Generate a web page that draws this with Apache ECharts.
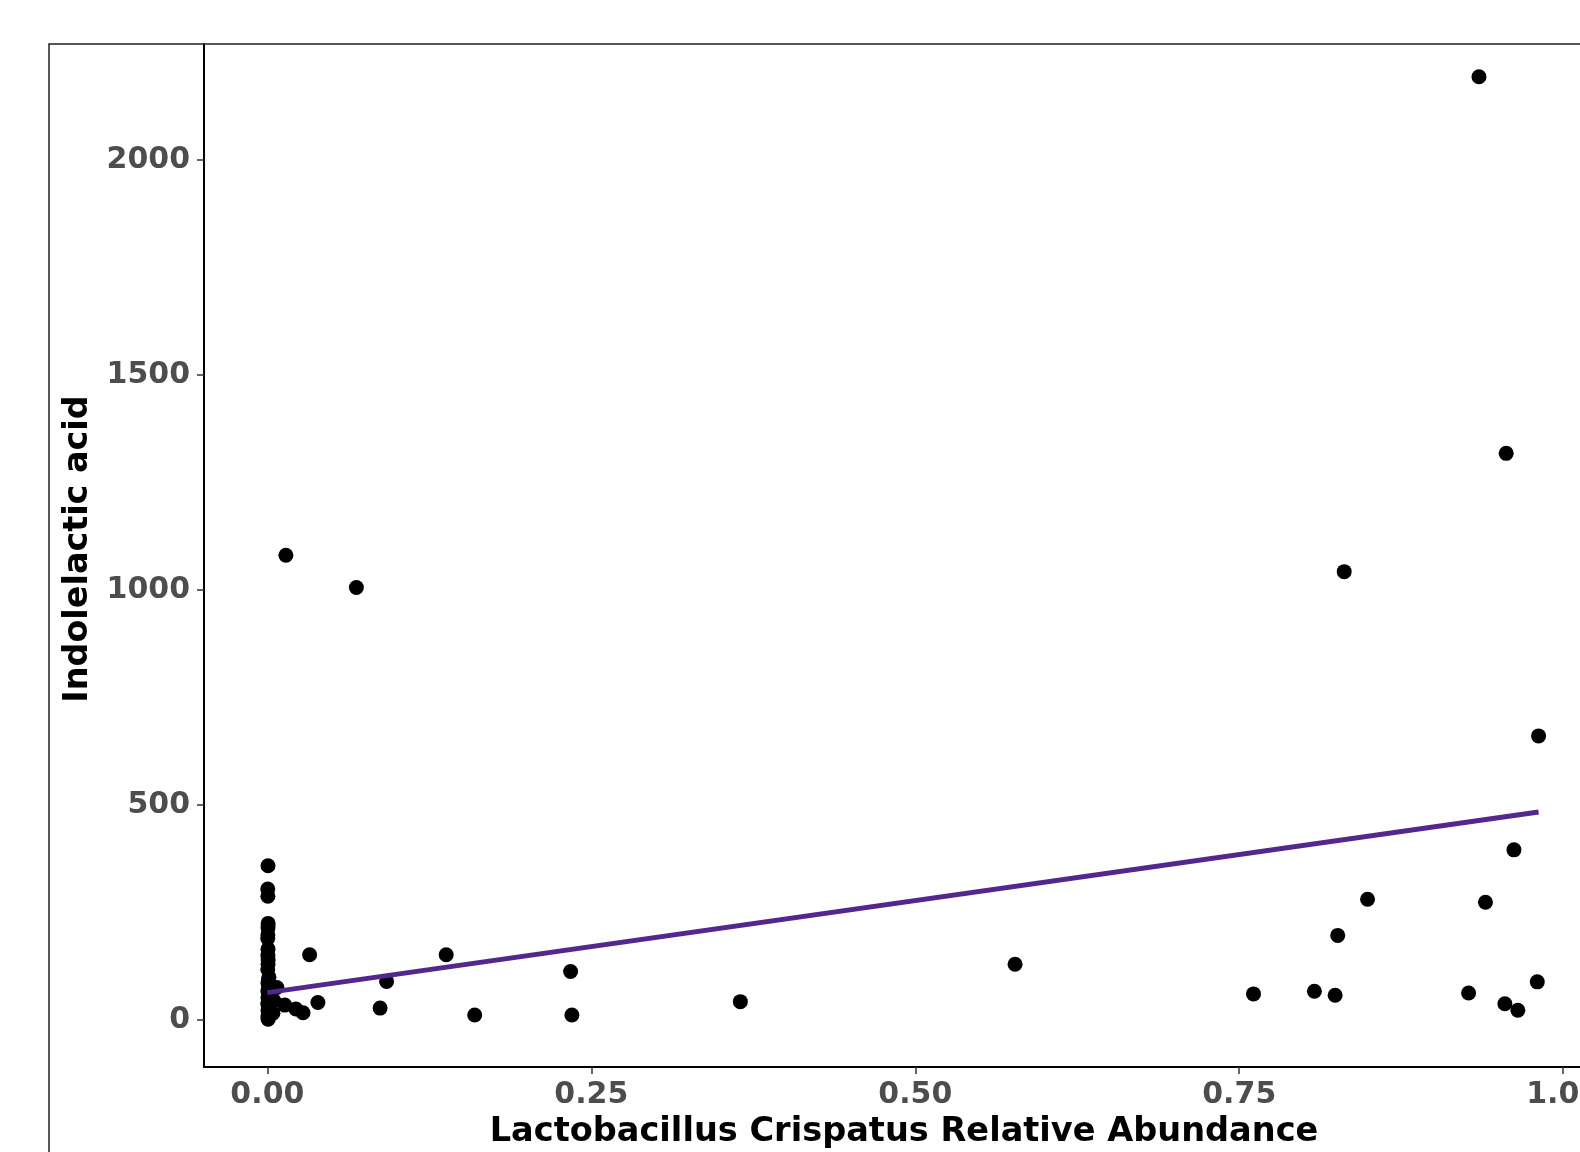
<!DOCTYPE html>
<html>
<head>
<meta charset="utf-8">
<script src="https://cdn.jsdelivr.net/npm/echarts@6/dist/echarts.min.js"></script>
<style>
	html, body { margin: 0; padding: 0; background: #fff; }
	#chart { width: 1580px; height: 1152px; }
</style>
</head>
<body>
<div id="chart"></div>
<script>
// relative abundance of L. crispatus (x) and indolelactic acid (y)
const abundance = [
	0.0005, 0.0003, 0.0004, 0.0006, 0.0005, 0.0004, 0.0003, 0.0005, 0.0004, 0.0006,
	0.0005, 0.0003, 0.0012, 0.0008, 0.0005, 0.0010, 0.0004, 0.0015, 0.0005, 0.0008,
	0.0003, 0.0012, 0.0005, 0.0009, 0.0004, 0.0006, 0.0073, 0.0050, 0.0043,
	0.0134, 0.022, 0.0275, 0.039, 0.0326, 0.0143, 0.0687, 0.087, 0.092, 0.138,
	0.160, 0.234, 0.235, 0.365, 0.577, 0.761, 0.808, 0.824, 0.826, 0.831,
	0.849, 0.927, 0.935, 0.940, 0.955, 0.956, 0.962, 0.965, 0.980, 0.981
]
const indolelactic = [
	359, 305, 288, 225, 215, 198, 190, 165, 150, 140,
	130, 118, 100, 92, 85, 75, 68, 60, 52, 45,
	38, 30, 22, 15, 8, 2, 76, 45, 16,
	35, 26, 17, 41, 152, 1081, 1006, 28, 90, 152,
	12, 113, 12, 43, 130, 61, 67, 58, 197, 1043,
	281, 63, 2194, 274, 38, 1318, 396, 23, 89, 661
]
// fitted linear trend, read at both ends
const fitX = [0, 0.981]
const fitY = [64, 484]

const xTicks = [0, 0.25, 0.5, 0.75, 1]
const yTicks = [0, 500, 1000, 1500, 2000]

const font = 'DejaVu Sans'

const points = abundance.map((x, i) => [x, indolelactic[i]])
const fit = fitX.map((x, i) => [x, fitY[i]])

const chart = echarts.init(document.getElementById('chart'), null, { renderer: 'canvas' })

chart.setOption({
	backgroundColor: '#fff',
	animation: false,
	grid: {
		left: 204,
		top: 44,
		width: 1424,
		height: 1023,
		containLabel: false,
		outerBoundsMode: 'none'
	},
	xAxis: {
		type: 'value',
		min: -0.0489,
		max: 1.05,
		splitLine: { show: false },
		axisLine: { onZero: false, lineStyle: { color: '#000', width: 2 } },
		axisTick: {
			customValues: xTicks,
			length: 7,
			lineStyle: { color: '#333', width: 1.5 }
		},
		axisLabel: {
			customValues: xTicks,
			margin: 13,
			fontSize: 30,
			fontWeight: 'bold',
			fontFamily: font,
			color: '#4d4d4d',
			formatter: v => v.toFixed(2)
		}
	},
	yAxis: {
		type: 'value',
		min: -109,
		max: 2270,
		splitLine: { show: false },
		axisLine: { show: true, onZero: false, lineStyle: { color: '#000', width: 2 } },
		axisTick: {
			show: true,
			customValues: yTicks,
			length: 7,
			lineStyle: { color: '#333', width: 1.5 }
		},
		axisLabel: {
			customValues: yTicks,
			margin: 14,
			fontSize: 30,
			fontWeight: 'bold',
			fontFamily: font,
			color: '#4d4d4d',
			formatter: v => String(v)
		}
	},
	series: [
		{
			type: 'scatter',
			data: points,
			symbolSize: 15,
			itemStyle: { color: '#000', opacity: 1 },
			z: 2
		},
		{
			type: 'line',
			data: fit,
			symbol: 'none',
			lineStyle: { color: '#54278f', width: 5 },
			z: 3
		}
	],
	graphic: [
		{
			type: 'rect',
			shape: { x: 49, y: 44, width: 1600, height: 1200 },
			style: { fill: 'none', stroke: '#222', lineWidth: 1.5 },
			silent: true,
			z: 10
		},
		{
			type: 'text',
			x: 904,
			y: 1132,
			style: {
				text: 'Lactobacillus Crispatus Relative Abundance',
				fontSize: 33.6,
				fontWeight: 'bold',
				fontFamily: font,
				fill: '#000',
				align: 'center',
				verticalAlign: 'middle'
			}
		},
		{
			type: 'text',
			x: 78,
			y: 549,
			rotation: Math.PI / 2,
			style: {
				text: 'Indolelactic acid',
				fontSize: 33.4,
				fontWeight: 'bold',
				fontFamily: font,
				fill: '#000',
				align: 'center',
				verticalAlign: 'middle'
			}
		}
	]
})
</script>
</body>
</html>
